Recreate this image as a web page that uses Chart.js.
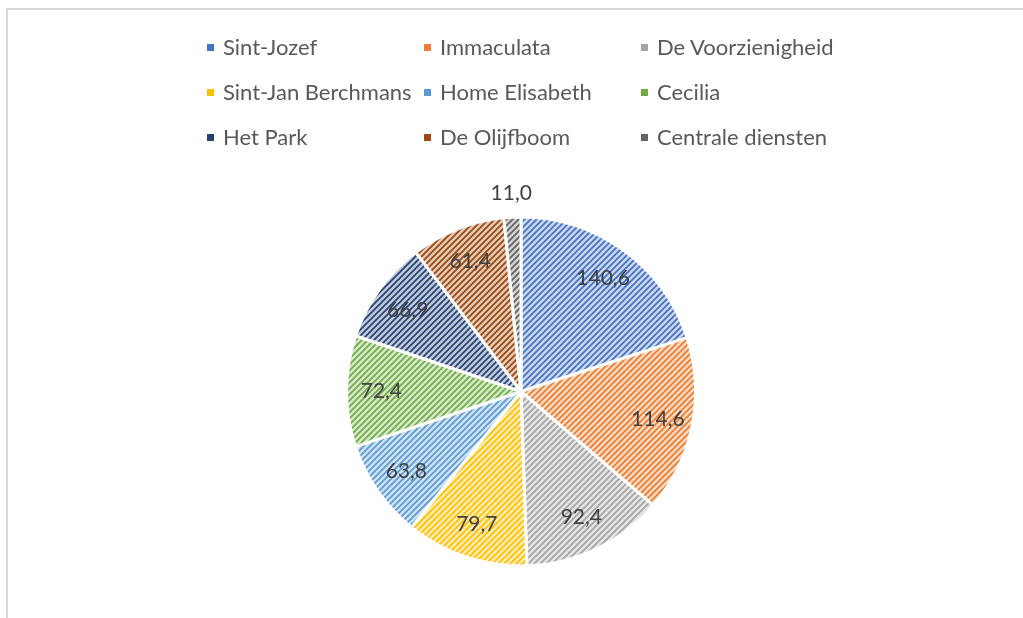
<!DOCTYPE html>
<html>
<head>
<meta charset="utf-8">
<script src="https://cdn.jsdelivr.net/npm/chart.js@4.4.0/dist/chart.umd.min.js"></script>
<style>
  html, body { margin: 0; padding: 0; width: 1023px; height: 618px; overflow: hidden; background: #fff; }
  #frame { position: absolute; left: 6px; top: 8px; width: 1100px; height: 700px; border: 2px solid #d9d9d9; }
  #grafiek { position: absolute; left: 0; top: 0; }
  .leg { position: absolute; font-family: Lato, "Liberation Sans", sans-serif; color: #595959; white-space: nowrap; line-height: 1; }
  .leg i { position: absolute; width: 7px; height: 7px; }
</style>
</head>
<body>
<div id="frame"></div>
<canvas id="grafiek" width="1023" height="618"></canvas>
<div id="legende"></div>
<script>
// gegevens
const locaties = ['Sint-Jozef', 'Immaculata', 'De Voorzienigheid', 'Sint-Jan Berchmans', 'Home Elisabeth', 'Cecilia', 'Het Park', 'De Olijfboom', 'Centrale diensten'];
const waarden = [140.6, 114.6, 92.4, 79.7, 63.8, 72.4, 66.9, 61.4, 11.0];
const kleuren = ['#4472C4', '#ED7D31', '#A5A5A5', '#FFC000', '#5B9BD5', '#70AD47', '#264478', '#9E480E', '#636363'];

// lichte tint van een kleur
function tint(hex, f) {
    const n = parseInt(hex.slice(1), 16);
    const r = (n >> 16) & 255, g = (n >> 8) & 255, b = n & 255;
    const m = c => Math.round(c + (255 - c) * f);
    return 'rgb(' + m(r) + ',' + m(g) + ',' + m(b) + ')';
}

// diagonaal arceerpatroon zoals in Excel
function arcering(kleur) {
    const t = document.createElement('canvas');
    t.width = 6; t.height = 6;
    const c = t.getContext('2d');
    c.fillStyle = tint(kleur, 0.72);
    c.fillRect(0, 0, 6, 6);
    c.strokeStyle = kleur;
    c.lineWidth = 1.8;
    c.beginPath();
    c.moveTo(-1, 7); c.lineTo(7, -1);
    c.moveTo(-1, 1); c.lineTo(1, -1);
    c.moveTo(5, 7); c.lineTo(7, 5);
    c.stroke();
    return c.createPattern(t, 'repeat');
}

// labels met waarden op de taartpunten
const labelPlugin = {
    id: 'waardeLabels',
    afterDatasetsDraw(chart) {
        const c = chart.ctx;
        const meta = chart.getDatasetMeta(0);
        c.save();
        c.font = '21px Lato, "Liberation Sans", sans-serif';
        c.fillStyle = '#404040';
        c.textAlign = 'center';
        c.textBaseline = 'middle';
        meta.data.forEach((arc, i) => {
            const p = arc.getProps(['x', 'y', 'startAngle', 'endAngle', 'outerRadius'], true);
            const mid = (p.startAngle + p.endAngle) / 2;
            const v = waarden[i];
            const d = v < 20 ? p.outerRadius + 24 : p.outerRadius * 0.8;
            const tekst = v.toFixed(1).replace('.', ',');
            c.fillText(tekst, p.x + Math.cos(mid) * d, p.y + Math.sin(mid) * d);
        });
        c.restore();
    }
};

const ctx = document.getElementById('grafiek');
const grafiek = new Chart(ctx, {
    type: 'pie',
    data: {
        labels: locaties,
        datasets: [{
            data: waarden,
            backgroundColor: kleuren.map(arcering),
            borderColor: '#ffffff',
            borderWidth: 3
        }]
    },
    options: {
        responsive: false,
        animation: false,
        layout: { padding: { left: 345, right: 326, top: 215, bottom: 50 } },
        plugins: {
            legend: { display: false },
            tooltip: { enabled: false }
        }
    },
    plugins: [labelPlugin]
});

// legenda in drie kolommen
const legende = document.getElementById('legende');
const kolX = [207, 424, 641];
const rijY = [47, 92, 137];
locaties.forEach((naam, i) => {
    const el = document.createElement('div');
    el.className = 'leg';
    el.style.left = (kolX[i % 3] + 16) + 'px';
    el.style.top = (rijY[Math.floor(i / 3)] - 11) + 'px';
    el.style.fontSize = '22px';
    el.textContent = naam;
    const m = document.createElement('i');
    m.style.left = '-16px';
    m.style.top = '8px';
    m.style.background = kleuren[i];
    el.appendChild(m);
    legende.appendChild(el);
});
</script>
</body>
</html>
